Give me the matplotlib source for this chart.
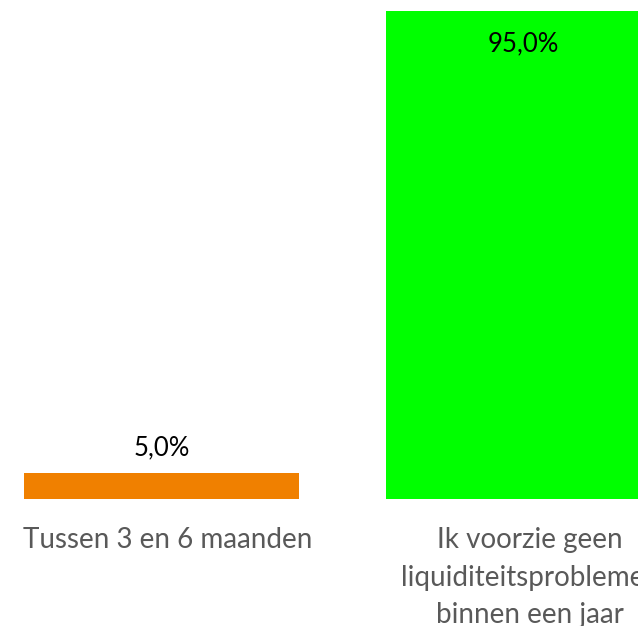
import matplotlib.pyplot as plt

categories = ['Tussen 3 en 6 maanden',
              'Ik voorzie geen\nliquiditeitsproblemen\nbinnen een jaar']
values = [5.0, 95.0]
colors = ['#F08000', '#00FF00']

plt.rcParams['font.family'] = ['Lato', 'DejaVu Sans']

fig = plt.figure(figsize=(6.38, 6.26), dpi=100)
ax = fig.add_axes([0, 127 / 626, 1, 499 / 626])

x = list(range(len(values)))
bars = ax.bar(x, values, width=0.76, color=colors)

ax.set_xlim(-0.446, 1.316)
ax.set_ylim(0, 97.14)

# data labels: small bar above, big bar inside near top
ax.text(0, values[0] + 4.9, '5,0%', ha='center', va='center', fontsize=18.5, color='black')
ax.text(1, values[1] - 6.4, '95,0%', ha='center', va='center', fontsize=18.5, color='black')

# category labels under the bars (slightly right of centre, like the original)
for xi, lab in zip(x, categories):
    ax.text(xi + 0.018, -5.5, lab, ha='center', va='top', fontsize=20, color='#595959',
            linespacing=1.55, clip_on=False)

ax.axis('off')

fig.savefig('out.png', dpi=100)
